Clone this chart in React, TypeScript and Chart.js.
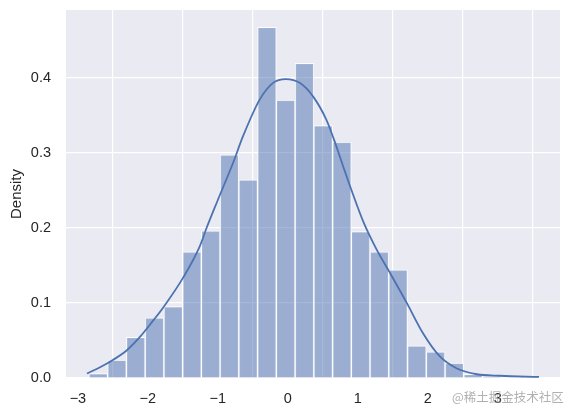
import React, { useEffect, useRef } from "react";
import { Chart, registerables } from "chart.js";

Chart.register(...registerables);

// Histogram bins (centers) and density heights
const binCenters = [
  -2.709, -2.441, -2.173, -1.905, -1.637, -1.369, -1.102, -0.834, -0.566, -0.298,
  -0.030, 0.238, 0.506, 0.774, 1.041, 1.309, 1.577, 1.845, 2.113, 2.381,
  2.649, 2.917, 3.184, 3.452,
];
const binDensity = [
  0.006, 0.024, 0.054, 0.080, 0.095, 0.168, 0.196, 0.297, 0.264, 0.467,
  0.370, 0.419, 0.336, 0.314, 0.195, 0.168, 0.144, 0.043, 0.035, 0.020,
  0.005, 0.002, 0.0, 0.002,
];

// KDE curve
const kdeX = [
  -2.87, -2.69, -2.50, -2.30, -2.11, -1.92, -1.78, -1.50, -1.26, -1.16,
  -1.00, -0.78, -0.64, -0.40, -0.21, -0.03, 0.17, 0.36, 0.55, 0.65,
  0.79, 0.93, 1.08, 1.27, 1.46, 1.70, 1.93, 2.17, 2.41, 2.70,
  3.03, 3.59,
];
const kdeY = [
  0.006, 0.014, 0.024, 0.037, 0.055, 0.077, 0.094, 0.133, 0.175, 0.200,
  0.237, 0.287, 0.322, 0.371, 0.393, 0.398, 0.393, 0.375, 0.344, 0.320,
  0.282, 0.245, 0.208, 0.171, 0.140, 0.100, 0.060, 0.029, 0.013, 0.005,
  0.003, 0.0015,
];

const xTicks = [-3, -2, -1, 0, 1, 2, 3];
const yTicks = [0.0, 0.1, 0.2, 0.3, 0.4];
const yLabel = "Density";
const watermark = "@稀土掘金技术社区";

const FONT = "'Liberation Sans', Arial, sans-serif";
const TEXT = "#262626";

export default function App() {
  const ref = useRef<HTMLCanvasElement | null>(null);

  useEffect(() => {
    if (!ref.current) return;
    const bgPlugin = {
      id: "bgPlugin",
      beforeDraw(chart: any) {
        const { ctx, chartArea } = chart;
        ctx.save();
        ctx.fillStyle = "#EAEAF2";
        ctx.fillRect(chartArea.left, chartArea.top, chartArea.right - chartArea.left, chartArea.bottom - chartArea.top);
        ctx.restore();
      },
      afterDraw(chart: any) {
        const { ctx } = chart;
        ctx.save();
        ctx.font = "12.5px 'Noto Sans CJK SC', sans-serif";
        ctx.fillStyle = "rgba(150,150,150,0.75)";
        ctx.textAlign = "left";
        ctx.textBaseline = "middle";
        ctx.fillText(watermark, 452, 397);
        ctx.restore();
      },
    };

    const chart = new Chart(ref.current, {
      type: "bar",
      data: {
        datasets: [
          {
            type: "line",
            data: kdeX.map((x, i) => ({ x, y: kdeY[i] })),
            borderColor: "#4C72B0",
            borderWidth: 1.8,
            pointRadius: 0,
            cubicInterpolationMode: "monotone",
            fill: false,
            order: 0,
          } as any,
          {
            type: "bar",
            data: binCenters.map((x, i) => ({ x, y: binDensity[i] })),
            backgroundColor: "rgba(76,114,176,0.5)",
            borderColor: "rgba(255,255,255,0.9)",
            borderWidth: 1,
            barPercentage: 1,
            categoryPercentage: 1,
            order: 1,
          } as any,
        ],
      },
      options: {
        animation: false,
        responsive: false,
        layout: { autoPadding: false, padding: { top: 10, right: 11, left: 0, bottom: 0 } },
        plugins: { legend: { display: false }, tooltip: { enabled: false }, title: { display: false } },
        scales: {
          x: {
            type: "linear",
            min: -3.17,
            max: 3.89,
            offset: false,
            afterFit(scale: any) {
              scale.height = 38;
              scale.paddingLeft = 0;
              scale.paddingRight = 0;
            },
            afterBuildTicks(scale: any) {
              scale.ticks = xTicks.map((v) => ({ value: v }));
            },
            ticks: {
              includeBounds: false,
              padding: 12,
              color: TEXT,
              font: { family: FONT, size: 14.5 },
              callback: (v: any) => (Number(v) < 0 ? "\u2212" + Math.abs(Number(v)) : String(v)),
            },
            grid: { color: "#FFFFFF", lineWidth: 1.2, drawTicks: false },
            border: { display: false },
          },
          y: {
            type: "linear",
            min: 0,
            max: 0.49,
            afterFit(scale: any) {
              scale.width = 66;
              scale.paddingTop = 0;
              scale.paddingBottom = 0;
            },
            afterBuildTicks(scale: any) {
              scale.ticks = yTicks.map((v) => ({ value: v }));
            },
            ticks: {
              includeBounds: false,
              padding: 15,
              color: TEXT,
              font: { family: FONT, size: 14.5 },
              callback: (v: any) => Number(v).toFixed(1),
            },
            grid: { color: "#FFFFFF", lineWidth: 1.2, drawTicks: false },
            border: { display: false },
            title: {
              display: true,
              text: yLabel,
              color: TEXT,
              font: { family: FONT, size: 15 },
              padding: { top: 8, bottom: 0 },
            },
          },
        },
      },
      plugins: [bgPlugin],
    });
    return () => chart.destroy();
  }, []);

  return (
    <div style={{ position: "fixed", left: 0, top: 0, width: 571, height: 416, background: "#fff" }}>
      <canvas ref={ref} width={571} height={416} style={{ width: 571, height: 416 }} />
    </div>
  );
}
